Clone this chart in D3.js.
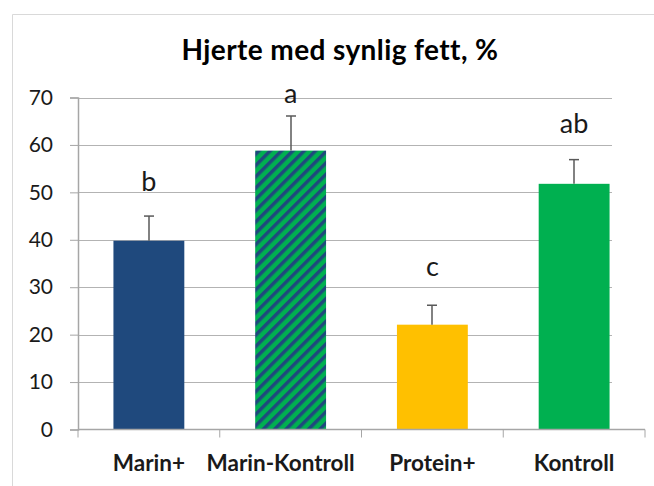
<!DOCTYPE html>
<html>
<head>
<meta charset="utf-8">
<script src="https://cdn.jsdelivr.net/npm/d3@7"></script>
<style>
  body { margin: 0; background: #fff; }
  svg { display: block; }
</style>
</head>
<body>
<svg id="svg1" width="654" height="486"></svg>
<script>
var categories = ['Marin+', 'Marin-Kontroll', 'Protein+', 'Kontroll'];
var values = [39.8, 58.8, 22.1, 51.8];
var errors = [5.2, 7.3, 4.1, 5.1];
var letters = ['b', 'a', 'c', 'ab'];
var letterAt = [52.3, 70.8, 34.4, 64.6];
var yTicks = [0, 10, 20, 30, 40, 50, 60, 70];

var colors = ['#1f497d', 'url(#hatch)', '#ffc000', '#00b050'];

var svg = d3.select('#svg1');
var font = 'Lato, "Open Sans", sans-serif';

// hatch pattern for Marin-Kontroll
var defs = svg.append('defs');
var pat = defs.append('pattern')
    .attr('id', 'hatch')
    .attr('patternUnits', 'userSpaceOnUse')
    .attr('width', 8).attr('height', 8)
    .attr('patternTransform', 'rotate(45)');
pat.append('rect').attr('width', 8).attr('height', 8).attr('fill', '#00b050');
pat.append('rect').attr('width', 3.5).attr('height', 8).attr('fill', '#1f497d');

// chart area border
svg.append('path')
    .attr('d', 'M12.5,486 V14.5 H654')
    .attr('fill', 'none')
    .attr('stroke', '#d9d9d9');

var plotLeft = 78, plotRight = 645, plotTop = 97.5, plotBottom = 429.5;

var x = d3.scaleBand().domain(categories).range([plotLeft, plotRight])
    .paddingInner(0.5).paddingOuter(0.25);
var y = d3.scaleLinear().domain([0, 70]).range([plotBottom, plotTop]);

// title
svg.append('text')
    .attr('x', 340).attr('y', 60)
    .attr('text-anchor', 'middle')
    .attr('font-family', font)
    .attr('font-weight', 'bold')
    .attr('font-size', 28)
    .attr('letter-spacing', 0.4)
    .attr('fill', '#000')
    .text('Hjerte med synlig fett, %');

// gridlines
svg.append('g').selectAll('line')
    .data(yTicks.filter(function(d) { return d > 0; }))
    .enter().append('line')
    .attr('x1', plotLeft).attr('x2', 612)
    .attr('y1', function(d) { return Math.round(y(d)) + 0.5; })
    .attr('y2', function(d) { return Math.round(y(d)) + 0.5; })
    .attr('stroke', '#b3b3b3');

// y axis
var yAxis = svg.append('g')
    .attr('transform', 'translate(' + plotLeft + ',0)')
    .call(d3.axisLeft(y).tickValues(yTicks).tickSize(8).tickPadding(17));
yAxis.select('.domain').attr('stroke', '#a6a6a6').attr('stroke-width', 1.5);
yAxis.selectAll('.tick line').attr('stroke', '#a6a6a6');
yAxis.selectAll('text')
    .attr('font-family', font)
    .attr('font-size', 21)
    .attr('fill', '#1a1a1a');

// bars
svg.append('g').selectAll('rect')
    .data(values)
    .enter().append('rect')
    .attr('x', function(d, i) { return x(categories[i]); })
    .attr('width', x.bandwidth())
    .attr('y', function(d) { return y(d); })
    .attr('height', function(d) { return y(0) - y(d); })
    .attr('fill', function(d, i) { return colors[i]; });

// x axis
var xAxis = svg.append('g')
    .attr('transform', 'translate(0,' + plotBottom + ')');
xAxis.append('line')
    .attr('x1', plotLeft).attr('x2', plotRight)
    .attr('stroke', '#a6a6a6').attr('stroke-width', 1.5);
xAxis.selectAll('.sep')
    .data(d3.range(categories.length + 1))
    .enter().append('line')
    .attr('x1', function(i) { return plotLeft + i * x.step(); })
    .attr('x2', function(i) { return plotLeft + i * x.step(); })
    .attr('y1', 0).attr('y2', 8)
    .attr('stroke', '#a6a6a6');
xAxis.selectAll('text.cat')
    .data(categories)
    .enter().append('text')
    .attr('class', 'cat')
    .attr('x', function(d, i) {
        // long label sits a bit left, like in the original
        return x(d) + x.bandwidth() / 2 + (i === 1 ? -10 : 0);
    })
    .attr('y', 41)
    .attr('text-anchor', 'middle')
    .attr('font-family', font)
    .attr('font-weight', 'bold')
    .attr('font-size', 22.5)
    .attr('fill', '#1a1a1a')
    .text(function(d) { return d; });

// error bars
var eb = svg.append('g').selectAll('g')
    .data(values)
    .enter().append('g')
    .attr('transform', function(d, i) {
        return 'translate(' + Math.round(x(categories[i]) + x.bandwidth() / 2) + ',0)';
    });
eb.append('line')
    .attr('y1', function(d) { return y(d); })
    .attr('y2', function(d, i) { return y(d + errors[i]); })
    .attr('stroke', '#595959').attr('stroke-width', 1.5);
eb.append('line')
    .attr('x1', -5).attr('x2', 5)
    .attr('y1', function(d, i) { return y(d + errors[i]); })
    .attr('y2', function(d, i) { return y(d + errors[i]); })
    .attr('stroke', '#595959').attr('stroke-width', 1.5);

// significance letters
svg.append('g').selectAll('text')
    .data(letters)
    .enter().append('text')
    .attr('x', function(d, i) { return x(categories[i]) + x.bandwidth() / 2; })
    .attr('y', function(d, i) { return y(letterAt[i]); })
    .attr('dy', '0.35em')
    .attr('text-anchor', 'middle')
    .attr('font-family', font)
    .attr('font-size', 27)
    .attr('fill', '#1a1a1a')
    .text(function(d) { return d; });
</script>
</body>
</html>
